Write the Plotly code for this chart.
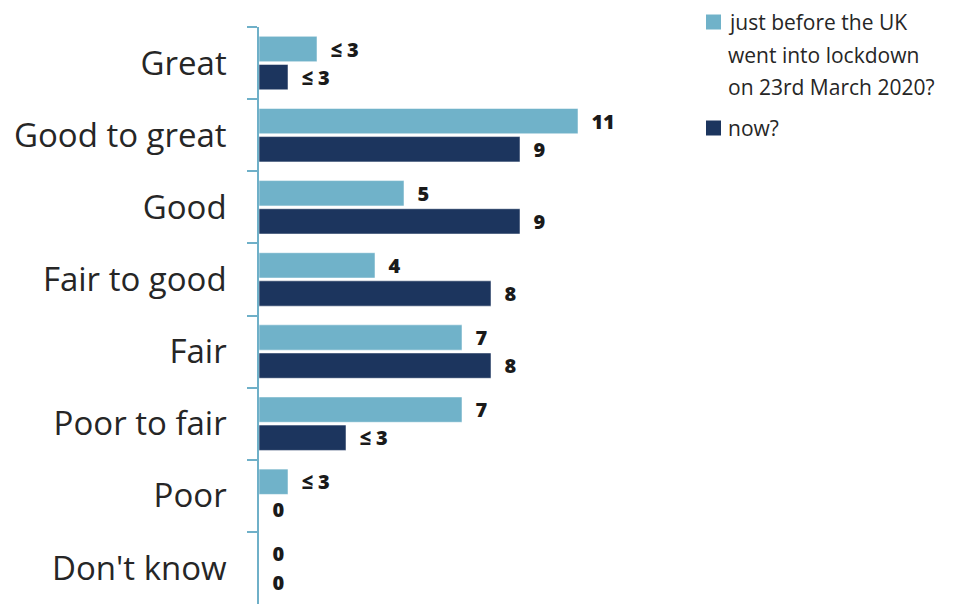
import plotly.graph_objects as go

categories = ["Great", "Good to great", "Good", "Fair to good", "Fair",
              "Poor to fair", "Poor", "Don't know"]
before_values = [2, 11, 5, 4, 7, 7, 1, 0]
now_values = [1, 9, 9, 8, 8, 3, 0, 0]
before_labels = ["≤ 3", "11", "5", "4", "7", "7", "≤ 3", "0"]
now_labels = ["≤ 3", "9", "9", "8", "8", "≤ 3", "0", "0"]

series_lines = [["just before the UK", "went into lockdown", "on 23rd March 2020?"], ["now?"]]
light = "#70b2c9"
dark = "#1c355e"
axis_col = "#6fb0c8"
font_family = "Open Sans, Noto Sans, sans-serif"

W, H = 961, 604
ML, MT = 259, 27

fig = go.Figure()
for lines, vals, labels, col in [
    (series_lines[0], before_values, before_labels, light),
    (series_lines[1], now_values, now_labels, dark),
]:
    fig.add_trace(go.Bar(
        y=categories, x=vals, orientation="h", name=" ".join(lines),
        marker=dict(color=col, line=dict(color="rgba(255,255,255,0.5)", width=1)),
        text=["  " + t for t in labels], textposition="outside",
        constraintext="none",
        textfont=dict(family=font_family, size=20, color="#1a1a1a", weight=800),
        cliponaxis=False, showlegend=False,
    ))

# legend drawn in pixel terms: square swatch + one annotation per text line
def px_x(x):
    return (x - ML) / (W - ML)

def px_y(y):
    return 1 - (y - MT) / (H - MT)

legend_rows = [(light, series_lines[0], 22), (dark, series_lines[1], 128)]
for col, lines, y0 in legend_rows:
    fig.add_shape(type="rect", xref="paper", yref="paper",
                  x0=px_x(706), x1=px_x(721), y0=px_y(y0 - 7.5), y1=px_y(y0 + 7.5),
                  fillcolor=col, line=dict(width=0))
    for i, line in enumerate(lines):
        fig.add_annotation(text=line, xref="paper", yref="paper",
                           x=px_x(726), y=px_y(y0 + i * 32.5), xanchor="left", yanchor="middle",
                           showarrow=False, font=dict(size=21, color="#262626", family=font_family))

fig.update_layout(
    width=W, height=H,
    margin=dict(l=ML, r=0, t=MT, b=0, autoexpand=False),
    paper_bgcolor="white", plot_bgcolor="white",
    barmode="group", bargap=0.22, bargroupgap=0.1,
    font=dict(family=font_family, color="#262626"),
    showlegend=False,
)
fig.update_xaxes(range=[0, (W - ML) / 29.0], visible=False)
fig.update_yaxes(
    autorange="reversed", showline=True, linecolor=axis_col, linewidth=1.5,
    ticks="outside", tickson="boundaries", ticklen=10, tickcolor=axis_col, tickwidth=1.5,
    tickfont=dict(size=33, color="#262626", family=font_family),
    ticklabelstandoff=24, showgrid=False,
)

fig.write_html("out.html")
